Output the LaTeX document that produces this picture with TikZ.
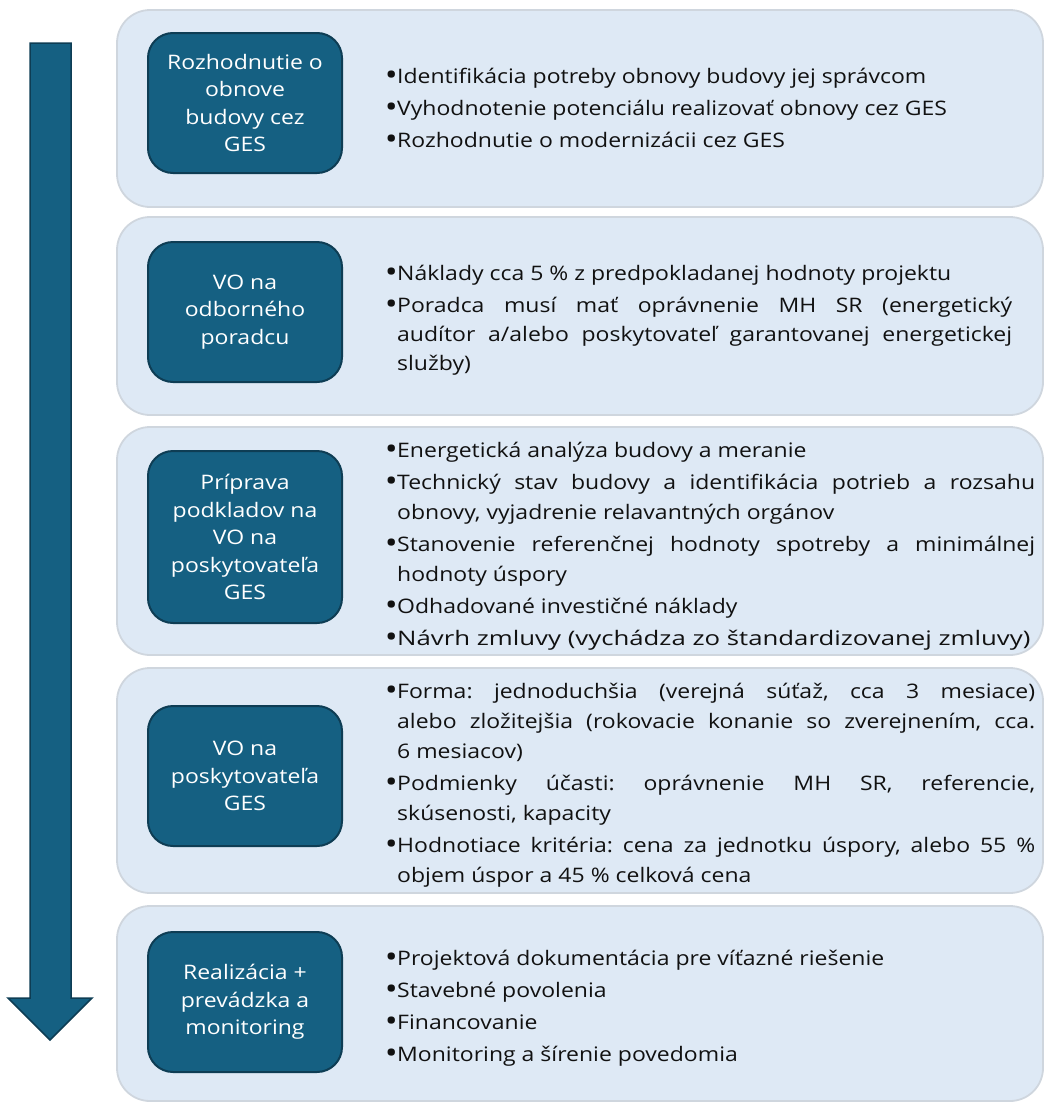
\documentclass[tikz,border=0pt]{standalone}
\usepackage{graphicx}
\usepackage{fontspec}
\setmainfont[FakeStretch=1.15]{Open Sans}
\definecolor{boxfill}{HTML}{156082}
\definecolor{boxborder}{HTML}{0E3D54}
\definecolor{panelfill}{HTML}{DEE9F5}
\definecolor{panelborder}{HTML}{CFD6DE}
\definecolor{textcol}{HTML}{111111}
\newcommand{\bul}[3]{\node[txt] (#1) at (397,#2) {#3}; \node[dot] (#1dot) at (398,#2) {\raisebox{-2.7pt}{•}};}
\newcommand{\cont}[3]{\node[txt] (#1) at (397,#2) {#3};}
\newcommand{\jus}[2]{\makebox[#1pt][s]{#2}}
\begin{document}
\frenchspacing
\begin{tikzpicture}[x=1pt,y=-1pt,
  panel/.style={draw=panelborder, line width=1.8pt, fill=panelfill, rounded corners=33pt, minimum width=926pt, inner sep=0pt},
  stepbox/.style={draw=boxborder, line width=2pt, fill=boxfill, rounded corners=25pt, minimum width=194pt, text=white, align=center, font=\fontsize{20}{27.5}\selectfont, inner sep=0pt},
  txt/.style={anchor=base west, inner sep=0pt, font=\fontsize{20}{24}\selectfont, text=textcol},
  dot/.style={anchor=base east, inner sep=0pt, font=\fontsize{30}{30}\selectfont, text=textcol},
  arrowshape/.style={draw=boxborder, fill=boxfill, line width=1.5pt, line join=miter}
]
\useasboundingbox (0,0) rectangle (1045,1103);

% down arrow
\draw[arrowshape] (30,43) -- (71,43) -- (71,998) -- (92,998) -- (50,1040) -- (8,998) -- (30,998) -- cycle;

% panels
\node[panel, minimum height=197pt] (P1) at (580,108.5) {};
\node[panel, minimum height=198pt] (P2) at (580,316) {};
\node[panel, minimum height=228pt] (P3) at (580,541) {};
\node[panel, minimum height=225pt] (P4) at (580,780.5) {};
\node[panel, minimum height=195pt] (P5) at (580,1003.5) {};

% step boxes
\node[stepbox, minimum height=140pt] (B1) at (245,103) {Rozhodnutie o\\obnove\\budovy cez\\GES};
\node[stepbox, minimum height=140pt] (B2) at (245,312) {VO na\\odborného\\poradcu};
\node[stepbox, minimum height=172pt] (B3) at (245,537) {Príprava\\podkladov na\\VO na\\poskytovateľa\\GES};
\node[stepbox, minimum height=140pt] (B4) at (245,776) {VO na\\poskytovateľa\\GES};
\node[stepbox, minimum height=140pt] (B5) at (245,1002) {Realizácia +\\prevádzka a\\monitoring};

% panel 1
\bul{t1a}{83}{Identifikácia potreby obnovy budovy jej správcom}
\bul{t1b}{115}{Vyhodnotenie potenciálu realizovať obnovy cez GES}
\bul{t1c}{147}{Rozhodnutie o modernizácii cez GES}

% panel 2
\bul{t2a}{280}{Náklady cca 5 \% z predpokladanej hodnoty projektu}
\bul{t2b}{312}{\jus{615}{Poradca musí mať oprávnenie MH SR (energetický}}
\cont{t2c}{341}{\jus{615}{audítor a/alebo poskytovateľ garantovanej energetickej}}
\cont{t2d}{370}{služby)}

% panel 3
\bul{t3a}{457}{Energetická analýza budovy a meranie}
\bul{t3b}{489}{\jus{638}{Technický stav budovy a identifikácia potrieb a rozsahu}}
\cont{t3c}{519}{obnovy, vyjadrenie relavantných orgánov}
\bul{t3d}{551}{\jus{638}{Stanovenie referenčnej hodnoty spotreby a minimálnej}}
\cont{t3e}{581}{hodnoty úspory}
\bul{t3f}{613}{Odhadované investičné náklady}
\bul{t3g}{645}{\scalebox{1.12}[1]{Návrh zmluvy (vychádza zo štandardizovanej zmluvy)}}

% panel 4
\bul{t4a}{698}{\jus{638}{Forma: jednoduchšia (verejná súťaž, cca 3 mesiace)}}
\cont{t4b}{728}{\jus{638}{alebo zložitejšia (rokovacie konanie so zverejnením, cca.}}
\cont{t4c}{758}{6 mesiacov)}
\bul{t4d}{790}{\jus{638}{Podmienky účasti: oprávnenie MH SR, referencie,}}
\cont{t4e}{820}{skúsenosti, kapacity}
\bul{t4f}{852}{\jus{638}{Hodnotiace kritéria: cena za jednotku úspory, alebo 55 \%}}
\cont{t4g}{882}{objem úspor a 45 \% celková cena}

% panel 5
\bul{t5a}{965}{Projektová dokumentácia pre víťazné riešenie}
\bul{t5b}{997}{Stavebné povolenia}
\bul{t5c}{1029}{Financovanie}
\bul{t5d}{1061}{Monitoring a šírenie povedomia}
\end{tikzpicture}
\end{document}
